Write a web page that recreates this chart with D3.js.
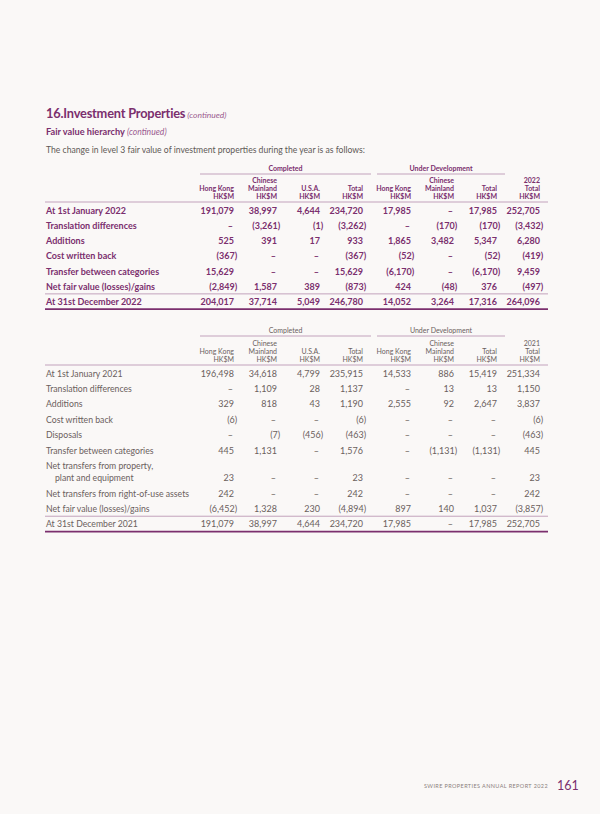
<!DOCTYPE html>
<html>
<head>
<meta charset="utf-8">
<script src="https://cdn.jsdelivr.net/npm/d3@7"></script>
<style>
  body{margin:0;background:#faf8f7;}
  svg{display:block;font-family:Lato,"Open Sans",sans-serif;}
</style>
</head>
<body>
<div id="page"></div>
<script>
var page_w=600
var page_h=814

//Column headers (three lines each)
var colLine1=["","Chinese","","","","Chinese","","2022"]
var colLine2=["Hong Kong","Mainland","U.S.A.","Total","Hong Kong","Mainland","Total","Total"]
var colLine3=["HK$M","HK$M","HK$M","HK$M","HK$M","HK$M","HK$M","HK$M"]
var colLine1_2021=["","Chinese","","","","Chinese","","2021"]
var groups=[{label:"Completed",from:0,to:3},{label:"Under Development",from:4,to:6}]

//2022 table, null = dash, negative = brackets
var labels2022=["At 1st January 2022","Translation differences","Additions","Cost written back",
                "Transfer between categories","Net fair value (losses)/gains","At 31st December 2022"]
var open2022=[191079,38997,4644,234720,17985,null,17985,252705]
var transl2022=[null,-3261,-1,-3262,null,-170,-170,-3432]
var add2022=[525,391,17,933,1865,3482,5347,6280]
var cost2022=[-367,null,null,-367,-52,null,-52,-419]
var transfer2022=[15629,null,null,15629,-6170,null,-6170,9459]
var fair2022=[-2849,1587,389,-873,424,-48,376,-497]
var close2022=[204017,37714,5049,246780,14052,3264,17316,264096]

//2021 table
var labels2021=["At 1st January 2021","Translation differences","Additions","Cost written back","Disposals",
                "Transfer between categories","Net transfers from property,|plant and equipment",
                "Net transfers from right-of-use assets","Net fair value (losses)/gains","At 31st December 2021"]
var open2021=[196498,34618,4799,235915,14533,886,15419,251334]
var transl2021=[null,1109,28,1137,null,13,13,1150]
var add2021=[329,818,43,1190,2555,92,2647,3837]
var cost2021=[-6,null,null,-6,null,null,null,-6]
var disp2021=[null,-7,-456,-463,null,null,null,-463]
var transfer2021=[445,1131,null,1576,null,-1131,-1131,445]
var ppe2021=[23,null,null,23,null,null,null,23]
var rou2021=[242,null,null,242,null,null,null,242]
var fair2021=[-6452,1328,230,-4894,897,140,1037,-3857]
var close2021=[191079,38997,4644,234720,17985,null,17985,252705]

var purple="#7b2f6e"
var rulePurple="#c2a2bc"
var grey="#6a605d"

var svg=d3.select("#page").append("svg")
          .attr("width",page_w)
          .attr("height",page_h);
svg.append("rect").attr("width",page_w).attr("height",page_h).attr("fill","#faf8f7");

//Column position scale (gap between the two groups)
var colScale=d3.scaleLinear().domain([0,7]).range([234,535]);
function colX(i) {return colScale(i)+(i>=4?5:0);}
var fmt=d3.format(",");
var left=45, right=548;

//Title block
var title=svg.append("text").attr("x",46).attr("y",117.5).attr("fill",purple);
title.append("tspan").text("16.Investment Properties").attr("font-weight","bold").attr("font-size",12.8).attr("letter-spacing",-0.2);
title.append("tspan").text(" (continued)").attr("font-style","italic").attr("font-size",8.5).attr("fill","#9a5c90");
var sub=svg.append("text").attr("x",46).attr("y",134.5).attr("fill",purple);
sub.append("tspan").text("Fair value hierarchy").attr("font-weight","bold").attr("font-size",9.2);
sub.append("tspan").text(" (continued)").attr("font-style","italic").attr("font-size",8.6).attr("fill","#9a5c90");
svg.append("text").attr("x",46).attr("y",152.5).attr("font-size",8.6).attr("fill","#5e5856")
   .text("The change in level 3 fair value of investment properties during the year is as follows:");

function drawTable(cfg) {
    var g=svg.append("g");
    var weight=cfg.bold?"bold":"normal";
    //group headers
    groups.forEach(function(gr) {
        var x0=colX(gr.from)-34, x1=colX(gr.to)+8;
        g.append("text").attr("x",(x0+x1)/2).attr("y",cfg.groupY)
         .attr("text-anchor","middle").attr("dominant-baseline","central")
         .attr("font-size",7).attr("font-weight",weight).attr("fill",cfg.color).text(gr.label);
        g.append("line").attr("x1",x0).attr("x2",x1).attr("y1",cfg.groupY+6).attr("y2",cfg.groupY+6)
         .attr("stroke",rulePurple).attr("stroke-width",1);
    });
    //column headers
    [cfg.line1,colLine2,colLine3].forEach(function(arr,k) {
        g.selectAll(null).data(arr).enter().append("text")
         .attr("x",function(d,i) {return colX(i);})
         .attr("y",cfg.headY+k*8)
         .attr("text-anchor","end").attr("dominant-baseline","central")
         .attr("font-size",7).attr("font-weight",weight).attr("fill",cfg.color)
         .text(function(d) {return d;});
    });
    g.append("line").attr("x1",left).attr("x2",right).attr("y1",cfg.headY+22).attr("y2",cfg.headY+22)
     .attr("stroke",rulePurple).attr("stroke-width",1);
    //rows
    var rowY=d3.scaleLinear().domain([0,1]).range([cfg.rowY0,cfg.rowY0+cfg.step]);
    cfg.rows.forEach(function(vals,r) {
        var pos=cfg.rowPos[r];
        var lab=cfg.labels[r].split("|");
        lab.forEach(function(t,k) {
            g.append("text").attr("x",left+1+(k>0?9:0))
             .attr("y",rowY(pos-(lab.length-1-k)*0.8))
             .attr("dominant-baseline","central").attr("font-size",cfg.labelSize)
             .attr("font-weight",weight).attr("fill",cfg.color).text(t);
        });
        g.selectAll(null).data(vals).enter().append("text")
         .attr("x",function(d,i) {return colX(i)+(d!==null&&d<0?3.2:(d===null?-1:0));})
         .attr("y",rowY(pos))
         .attr("text-anchor","end").attr("dominant-baseline","central")
         .attr("font-size",9).attr("font-weight",weight).attr("fill",cfg.color)
         .text(function(d) {
             if(d===null) return "\u2013";
             return d<0?"("+fmt(-d)+")":fmt(d);
         });
    });
    var last=cfg.rowPos[cfg.rowPos.length-1];
    g.append("line").attr("x1",left).attr("x2",right)
     .attr("y1",rowY(last-0.5)).attr("y2",rowY(last-0.5))
     .attr("stroke",rulePurple).attr("stroke-width",1);
    g.append("line").attr("x1",left).attr("x2",right)
     .attr("y1",rowY(last+0.5)).attr("y2",rowY(last+0.5))
     .attr("stroke",purple).attr("stroke-width",1.8);
}

drawTable({bold:true,color:purple,groupY:168,headY:180,rowY0:210,step:15.25,line1:colLine1,labelSize:9,
           labels:labels2022,rowPos:[0,1,2,3,4,5,6],
           rows:[open2022,transl2022,add2022,cost2022,transfer2022,fair2022,close2022]});
drawTable({bold:false,color:grey,groupY:330,headY:343,rowY0:373,step:15.4,line1:colLine1_2021,labelSize:8.7,
           labels:labels2021,rowPos:[0,1,2,3,4,5,6.8,7.8,8.8,9.8],
           rows:[open2021,transl2021,add2021,cost2021,disp2021,transfer2021,ppe2021,rou2021,fair2021,close2021]});

//Footer
svg.append("text").attr("x",548).attr("y",786).attr("text-anchor","end").attr("dominant-baseline","central")
   .attr("font-size",5.5).attr("letter-spacing",0.4).attr("fill","#8a7f7c")
   .text("SWIRE PROPERTIES ANNUAL REPORT 2022");
svg.append("text").attr("x",557).attr("y",785).attr("dominant-baseline","central")
   .attr("font-size",12.5).attr("fill",purple).text("161");
</script>
</body>
</html>
